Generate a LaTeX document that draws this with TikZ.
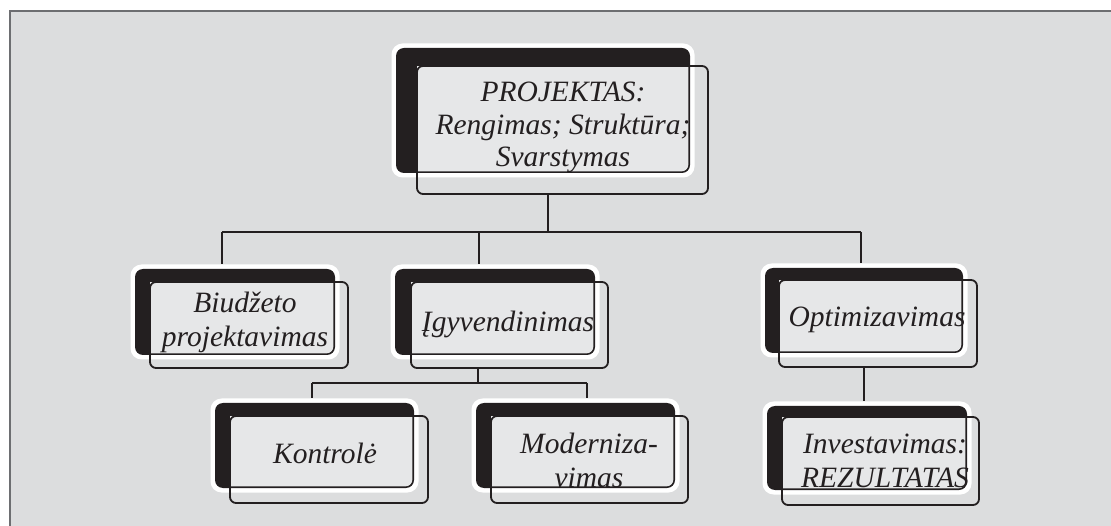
\documentclass[tikz,border=0pt]{standalone}
\usepackage{fontspec}
\setmainfont{Liberation Serif}
\definecolor{bgc}{HTML}{DCDDDE}
\definecolor{lightc}{HTML}{E6E7E8}
\definecolor{darkc}{HTML}{231F20}
\definecolor{framec}{HTML}{6D6E71}
\tikzset{
  whitebox/.style={fill=white, rounded corners=11pt, inner sep=0pt, outer sep=0pt, draw=none},
  darkbox/.style={fill=darkc, rounded corners=8pt, inner sep=0pt, outer sep=0pt, draw=none},
  lightbox/.style={draw=darkc, line width=1.8pt, rounded corners=6pt, inner sep=0pt, outer sep=0pt},
  lbl/.style={font=\fontsize{29.5}{33}\selectfont\itshape, text=darkc, align=center, inner sep=0pt},
  conn/.style={draw=darkc, line width=2.8pt}
}
% name, x1, y1, x2, y2 (dark box), lx1, ly1, lx2, ly2 (light box)
\newcommand\orgbox[9]{%
  \node[whitebox, anchor=north west, minimum width={#4-#2+9}, minimum height={#5-#3+9}] (#1-w) at (#2-4.5,#3-4.5) {};
  \node[darkbox, anchor=north west, minimum width={#4-#2}, minimum height={#5-#3}] (#1-d) at (#2,#3) {};
  \begin{scope}
    \clip[rounded corners=7pt] (#2+1.6,#3+1.6) rectangle (#4-1.6,#5-1.6);
    \fill[lightc] (#6,#7) rectangle (#8,#9);
  \end{scope}
  \node[lightbox, anchor=north west, minimum width={#8-#6}, minimum height={#9-#7}] (#1-l) at (#6,#7) {};
}
\begin{document}
\begin{tikzpicture}[x=1pt,y=-1pt]
\useasboundingbox (0,0) rectangle (1111,526);
\fill[white] (0,0) rectangle (1111,526);
\fill[bgc] (10,11) rectangle (1111,526);
\draw[framec, line width=1.6pt] (1111,11) -- (10,11) -- (10,526);

% boxes
\orgbox{top}{396}{48}{690}{173}{417}{66}{708}{194}
\orgbox{bud}{135}{269}{335}{355}{150}{282}{348}{368}
\orgbox{igy}{395}{269}{595}{355}{411}{282}{608}{368}
\orgbox{opt}{765}{268}{963}{353}{779}{280}{977}{367}
\orgbox{kon}{215}{403}{414}{488}{230}{416}{428}{503}
\orgbox{mod}{476}{403}{675}{488}{491}{416}{688}{503}
\orgbox{inv}{767}{406}{967}{490}{782}{417}{979}{505}

% texts (anchor=base is the baseline of the last line)
\node[lbl, anchor=base, font=\fontsize{29.5}{32.5}\selectfont\itshape] (top) at (563,167) {PROJEKTAS:\\Rengimas; Struktūra;\\Svarstymas};
\node[lbl, anchor=base, font=\fontsize{29.5}{34}\selectfont\itshape] (bud) at (245,347) {Biudžeto\\projektavimas};
\node[lbl, anchor=base] (igy) at (508,332) {Įgyvendinimas};
\node[lbl, anchor=base] (opt) at (877,327) {Optimizavimas};
\node[lbl, anchor=base] (kon) at (325,463) {Kontrolė};
\node[lbl, anchor=base, font=\fontsize{29.5}{34}\selectfont\itshape] (mod) at (589,487) {Moderniza-\\vimas};
\node[lbl, anchor=base, font=\fontsize{29.5}{34}\selectfont\itshape] (inv) at (885,487) {Investavimas:\\REZULTATAS};

% connectors
\coordinate (b1) at (548,232);
\coordinate (b2) at (222,232);
\coordinate (b3) at (479,232);
\coordinate (b4) at (861,232);
\draw[conn] (top-l.south -| b1) -- (b1);
\draw[conn] (b2) -- (b4);
\draw[conn] (b2) -- (bud-w.north -| b2);
\draw[conn] (b3) -- (igy-w.north -| b3);
\draw[conn] (b4) -- (opt-w.north -| b4);
\coordinate (c1) at (478,383);
\coordinate (c2) at (312,383);
\coordinate (c3) at (587,383);
\draw[conn] (igy-l.south -| c1) -- (c1);
\draw[conn] (c2) -- (c3);
\draw[conn] (c2) -- (kon-w.north -| c2);
\draw[conn] (c3) -- (mod-w.north -| c3);
\coordinate (d1) at (864,380);
\draw[conn] (opt-l.south -| d1) -- (inv-w.north -| d1);
\end{tikzpicture}
\end{document}
